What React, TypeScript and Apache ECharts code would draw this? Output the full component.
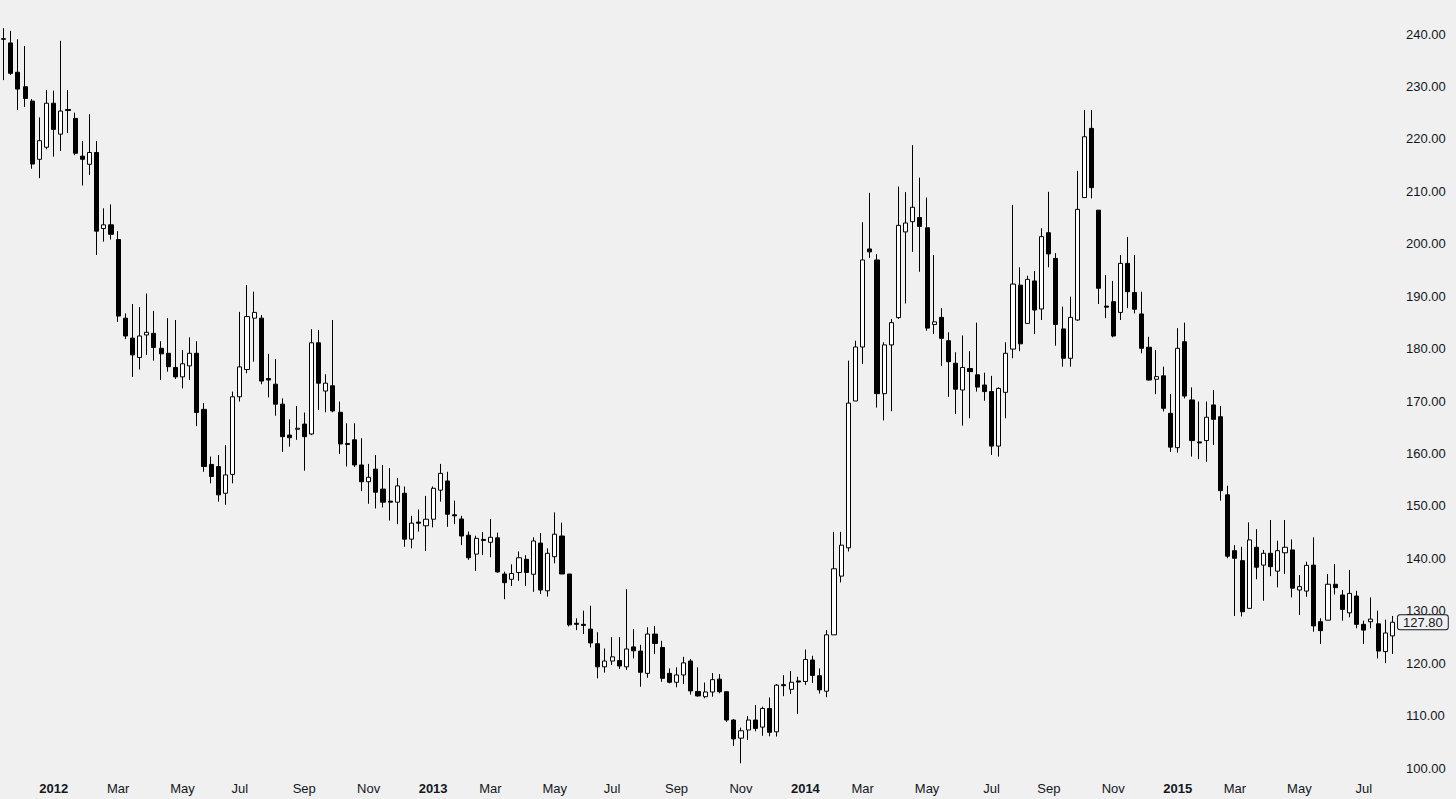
import React, { useEffect, useRef } from "react";
import * as echarts from "echarts";

// Weekly candles, first bar = week of 2011-11-14
const opens = [
  239.1, 238.3, 232.7, 229.95, 227.2, 216.1, 218.4, 226.8, 220.9, 225.6,
  223.9, 216.7, 215.15, 217.4, 202.9, 203.6, 200.8, 185.8, 182.0, 178.3,
  182.6, 182.9, 180.05, 179.1, 176.4, 174.6, 176.7, 179.1, 168.4, 157.9,
  157.5, 152.4, 156.0, 170.8, 176.0, 185.8, 185.8, 174.3, 173.2, 169.4,
  163.5, 164.6, 165.6, 163.7, 181.1, 171.9, 172.9, 167.85, 161.9, 162.6,
  157.8, 154.6, 157.0, 153.2, 150.9, 150.7, 152.4, 143.65, 146.9, 146.2,
  147.45, 153.0, 154.75, 148.3, 147.5, 144.4, 140.8, 143.6, 143.05, 143.9,
  137.0, 136.0, 137.3, 139.8, 136.95, 142.9, 133.8, 140.3, 144.25, 137.0,
  127.6, 127.4, 126.5, 123.7, 119.3, 120.4, 120.5, 119.3, 123.1, 122.3,
  118.05, 125.55, 123.0, 118.05, 116.35, 117.75, 120.4, 114.6, 113.6, 114.5,
  116.95, 114.55, 109.15, 105.7, 107.25, 109.15, 107.8, 111.35, 106.9, 115.9,
  115.0, 116.6, 116.5, 120.6, 117.6, 114.65, 125.4, 136.6, 142.0, 170.0,
  180.3, 199.0, 196.9, 171.4, 180.7, 185.9, 202.25, 204.2, 205.0, 203.05,
  184.6, 185.95, 181.5, 177.2, 172.1, 176.2, 175.0, 173.05, 171.8, 161.4,
  171.65, 179.9, 192.1, 184.8, 192.9, 187.55, 202.1, 197.2, 183.75, 178.15,
  185.45, 208.8, 222.0, 206.4, 188.1, 188.95, 186.9, 196.25, 190.7, 186.6,
  180.25, 174.15, 174.8, 167.65, 161.1, 181.3, 170.2, 162.2, 162.45, 169.25,
  167.0, 152.1, 141.45, 139.55, 130.45, 142.1, 138.7, 140.95, 137.55, 141.05,
  141.6, 133.95, 133.75, 138.7, 127.9, 128.2, 135.05, 133.0, 129.6, 132.8,
  127.4, 127.9, 127.5, 122.2, 125.2,
];
const closes = [
  239.0, 232.5, 229.5, 227.7, 215.2, 219.65, 226.8, 221.8, 225.3, 225.4,
  217.25, 216.1, 217.4, 202.4, 203.6, 201.8, 186.2, 182.4, 178.8, 182.4,
  183.1, 180.2, 179.0, 176.55, 174.6, 177.1, 179.1, 167.8, 157.5, 155.6,
  152.1, 155.9, 170.8, 176.5, 186.1, 186.9, 173.8, 174.0, 169.4, 163.2,
  163.0, 164.8, 163.2, 181.1, 173.4, 173.4, 168.1, 161.8, 161.7, 157.8,
  154.6, 155.45, 152.6, 150.7, 150.7, 153.8, 143.65, 146.7, 146.7, 147.45,
  153.35, 156.2, 148.4, 148.1, 144.25, 140.1, 143.8, 143.4, 144.0, 137.4,
  135.35, 137.1, 140.1, 137.3, 143.3, 133.95, 140.95, 144.6, 137.0, 127.3,
  127.4, 127.2, 123.85, 119.3, 120.4, 121.2, 119.45, 122.7, 122.35, 118.25,
  125.55, 123.75, 117.1, 116.35, 117.75, 120.05, 114.7, 113.75, 114.5, 116.85,
  114.55, 109.15, 105.55, 107.1, 109.15, 107.55, 111.35, 106.8, 115.8, 115.7,
  116.35, 116.4, 120.7, 117.65, 114.9, 125.4, 138.0, 142.5, 169.6, 180.3,
  196.9, 198.45, 171.4, 180.7, 184.95, 203.5, 203.95, 206.95, 203.3, 183.9,
  185.1, 181.95, 177.5, 172.25, 176.4, 175.6, 172.65, 171.8, 161.4, 172.4,
  179.1, 192.3, 180.9, 193.2, 187.35, 201.35, 198.05, 184.6, 178.15, 185.95,
  206.55, 220.4, 210.7, 191.5, 187.9, 182.4, 196.25, 190.85, 187.5, 180.05,
  174.0, 174.65, 168.6, 161.2, 180.05, 170.95, 162.45, 162.0, 166.9, 166.5,
  152.9, 140.4, 140.0, 129.8, 143.5, 138.3, 140.95, 138.4, 141.45, 142.1,
  134.3, 134.6, 138.65, 127.1, 126.2, 135.05, 134.4, 130.25, 133.3, 127.4,
  126.3, 128.4, 122.3, 125.75, 127.8,
];
const lows = [
  231.2, 232.2, 225.5, 226.1, 214.3, 212.5, 218.0, 216.6, 217.7, 221.1,
  216.9, 211.1, 213.1, 197.85, 200.4, 200.8, 185.1, 181.8, 174.6, 176.0,
  178.8, 177.7, 174.0, 175.6, 174.2, 172.4, 174.0, 165.2, 156.5, 154.3,
  150.8, 150.2, 154.3, 169.9, 175.3, 177.5, 173.2, 170.7, 167.2, 160.3,
  161.3, 162.6, 156.7, 163.5, 168.3, 167.85, 167.85, 159.9, 157.5, 157.4,
  152.8, 150.4, 149.5, 149.7, 147.2, 146.5, 142.2, 141.9, 145.1, 141.4,
  145.9, 150.8, 146.0, 146.5, 142.5, 139.7, 137.6, 140.6, 140.2, 137.25,
  132.2, 134.7, 135.7, 134.7, 133.6, 133.2, 132.7, 139.05, 137.0, 127.0,
  126.3, 125.55, 123.0, 117.1, 118.2, 119.65, 118.9, 118.7, 120.9, 115.5,
  117.2, 121.75, 116.45, 116.15, 115.4, 116.0, 114.0, 113.6, 113.3, 113.6,
  114.25, 108.8, 104.2, 100.9, 105.35, 107.0, 106.15, 106.05, 106.0, 113.7,
  114.1, 110.3, 115.85, 116.2, 114.2, 113.5, 125.4, 135.4, 141.3, 170.0,
  177.05, 197.3, 168.75, 166.3, 168.05, 185.65, 188.6, 198.45, 194.65, 183.4,
  182.8, 176.7, 170.8, 167.5, 165.3, 166.7, 171.8, 170.05, 159.7, 159.4,
  166.7, 178.15, 179.5, 184.8, 182.8, 185.45, 195.5, 180.55, 176.55, 176.55,
  185.3, 208.8, 208.65, 188.5, 185.8, 182.15, 185.45, 187.7, 186.7, 179.1,
  173.9, 171.3, 168.0, 160.3, 160.15, 170.5, 159.4, 158.9, 158.4, 161.6,
  151.0, 140.0, 129.0, 128.9, 130.45, 136.0, 131.9, 136.6, 134.45, 137.0,
  132.55, 129.2, 132.65, 126.0, 123.65, 128.2, 133.1, 128.1, 128.75, 126.65,
  123.65, 126.65, 120.9, 120.0, 121.75,
];
const highs = [
  241.1, 240.6, 239.0, 237.7, 227.6, 224.1, 229.3, 229.2, 238.7, 229.3,
  225.0, 219.6, 224.7, 219.6, 206.75, 207.5, 202.4, 186.7, 188.5, 187.9,
  190.5, 187.2, 181.4, 185.8, 185.45, 179.7, 182.15, 181.4, 169.6, 159.4,
  159.7, 161.6, 171.8, 187.0, 192.1, 190.85, 186.4, 179.0, 178.0, 170.5,
  166.5, 169.05, 167.8, 183.7, 183.55, 175.1, 185.45, 169.9, 165.75, 165.75,
  162.9, 158.0, 159.7, 157.8, 157.2, 155.3, 153.7, 148.1, 149.3, 151.9,
  153.7, 158.0, 156.5, 151.0, 148.1, 145.1, 144.3, 145.0, 147.5, 144.9,
  137.45, 138.85, 141.3, 140.6, 144.0, 144.8, 141.9, 148.75, 146.8, 137.0,
  128.55, 130.0, 130.95, 125.9, 122.8, 124.95, 124.95, 134.1, 126.5, 123.5,
  126.85, 127.1, 124.25, 119.0, 119.2, 121.2, 120.8, 119.2, 116.3, 118.1,
  117.9, 114.55, 109.35, 107.7, 109.9, 112.0, 111.7, 113.45, 116.0, 117.7,
  118.5, 117.4, 122.6, 121.4, 119.0, 126.3, 145.05, 145.05, 177.7, 181.5,
  204.1, 209.7, 198.0, 181.2, 185.65, 210.9, 209.85, 218.8, 212.6, 208.8,
  197.85, 187.7, 183.1, 179.3, 182.5, 179.5, 184.95, 175.4, 174.8, 172.6,
  181.2, 207.4, 195.5, 193.9, 194.8, 202.95, 209.9, 198.2, 188.0, 189.9,
  213.9, 225.5, 225.5, 206.4, 194.0, 192.9, 197.85, 201.3, 197.85, 190.85,
  182.25, 179.7, 176.55, 171.35, 183.9, 184.95, 172.6, 169.9, 169.9, 172.1,
  169.05, 153.85, 142.5, 142.2, 146.85, 145.55, 141.6, 147.3, 143.35, 147.3,
  143.6, 136.8, 139.35, 144.0, 128.55, 137.0, 138.9, 133.95, 137.75, 133.8,
  128.1, 132.55, 130.0, 128.3, 129.0,
];

const firstWeekUTC = Date.UTC(2011, 10, 14);
const xTickIndex = [7, 16, 25, 33, 42, 51, 60, 68, 77, 85, 94, 103, 112, 120, 129, 138, 146, 155, 164, 172, 181, 190];
const xTickLabels = ["2012", "Mar", "May", "Jul", "Sep", "Nov", "2013", "Mar", "May", "Jul", "Sep", "Nov", "2014", "Mar", "May", "Jul", "Sep", "Nov", "2015", "Mar", "May", "Jul"];
const yMin = 100;
const yMax = 240;
const yStep = 10;
const lastPrice = 127.8;

export default function App() {
  const ref = useRef<HTMLDivElement>(null);
  useEffect(() => {
    if (!ref.current) return;
    const chart = echarts.init(ref.current, null, { renderer: "svg" });
    const categories = opens.map((_, i) =>
      new Date(firstWeekUTC + i * 7 * 86400000).toISOString().slice(0, 10)
    );
    const data = opens.map((o, i) => [o, closes[i], lows[i], highs[i]]);
    const font = "Arial, 'Liberation Sans', Helvetica, sans-serif";
    chart.setOption({
      animation: false,
      backgroundColor: "#f0f0f0",
      grid: { left: 0, right: 60, top: 34, bottom: 31, containLabel: false },
      xAxis: {
        type: "category",
        data: categories,
        boundaryGap: true,
        axisLine: { show: false },
        axisTick: { show: false },
        splitLine: { show: false },
        axisLabel: {
          interval: (index: number) => xTickIndex.includes(index),
          formatter: (_v: string, index: number) => {
            const k = xTickIndex.indexOf(index);
            if (k < 0) return "";
            const t = xTickLabels[k];
            return /^\d{4}$/.test(t) ? `{y|${t}}` : t;
          },
          color: "#131722",
          fontSize: 13,
          fontFamily: font,
          margin: 14,
          rich: { y: { fontWeight: "bold", fontSize: 13, fontFamily: font, color: "#131722" } },
        },
      },
      yAxis: {
        type: "value",
        position: "right",
        min: yMin,
        max: yMax,
        interval: yStep,
        axisLine: { show: false },
        axisTick: { show: false },
        splitLine: { show: false },
        axisLabel: {
          formatter: (v: number) => v.toFixed(2),
          color: "#131722",
          fontSize: 13,
          fontFamily: font,
          margin: 10,
        },
      },
      series: [
        {
          type: "candlestick",
          data,
          barWidth: 4.6,
          clip: false,
          itemStyle: {
            color: "#ffffff",
            color0: "#000000",
            borderColor: "#000000",
            borderColor0: "#000000",
            borderWidth: 1,
          },
          markLine: {
            silent: true,
            symbol: ["none", "none"],
            lineStyle: { color: "rgba(0,0,0,0)", width: 0, type: "solid" },
            data: [{ yAxis: lastPrice }],
            label: {
              show: true,
              position: "end",
              distance: 2,
              formatter: () => lastPrice.toFixed(2),
              color: "#131722",
              fontSize: 13,
              fontFamily: font,
              backgroundColor: "#f0f0f0",
              borderColor: "#131722",
              borderWidth: 1,
              borderRadius: 2,
              padding: [1, 5, 0, 5],
              lineHeight: 13,
              opacity: 1,
            },
          },
        },
      ],
    });
    return () => chart.dispose();
  }, []);
  return (
    <div
      ref={ref}
      style={{ position: "absolute", left: 0, top: 0, width: 1456, height: 799, background: "#f0f0f0" }}
    />
  );
}
